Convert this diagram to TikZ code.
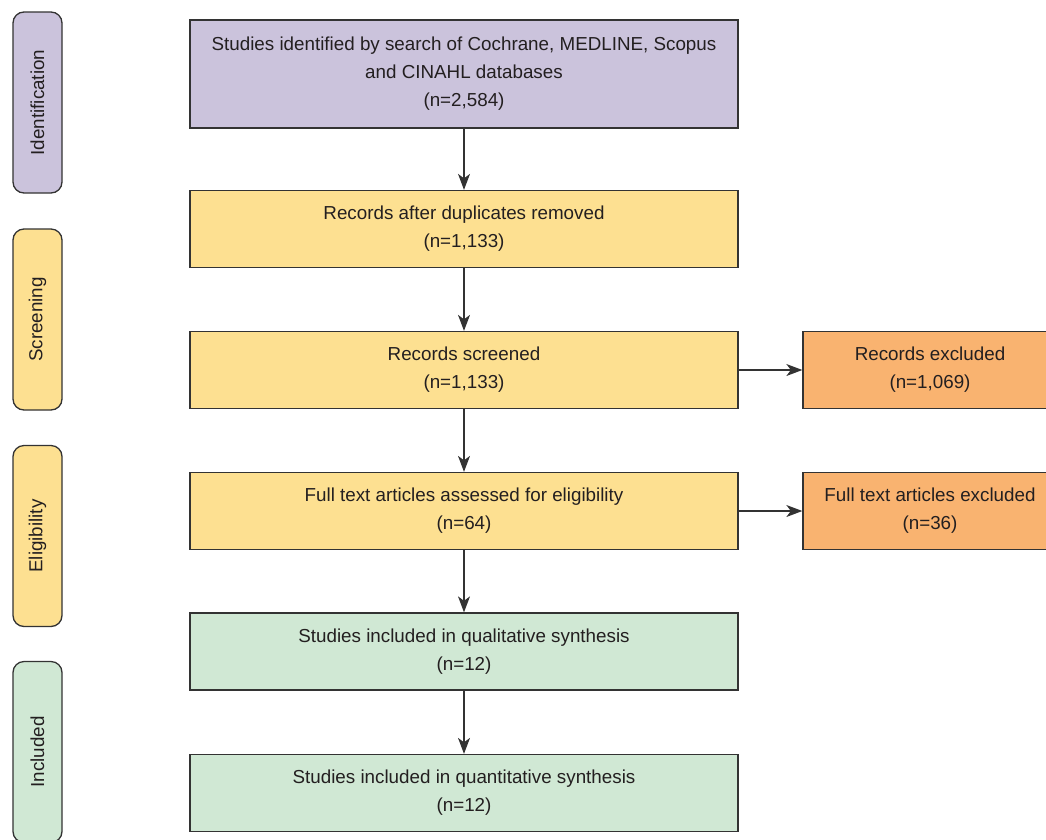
\documentclass[tikz,border=0pt]{standalone}
\usepackage{fontspec}
\setmainfont{Liberation Sans}
\usepackage{tikz}
\usetikzlibrary{arrows.meta}

\definecolor{identcol}{HTML}{CBC3DC}
\definecolor{screencol}{HTML}{FDE091}
\definecolor{exclcol}{HTML}{F9B370}
\definecolor{inclcol}{HTML}{D0E8D4}
\definecolor{linecol}{HTML}{333333}
\definecolor{textcol}{HTML}{231F20}

\tikzstyle{stagebox} = [draw=linecol,line width=1.3pt,rounded corners=11pt,rotate=90,
  minimum width=181pt,minimum height=49pt,inner sep=0pt,text=textcol]
\tikzstyle{mainbox} = [draw=linecol,line width=1.3pt,minimum width=548pt,minimum height=77pt,
  inner sep=0pt,align=center,text=textcol]
\tikzstyle{sidebox} = [draw=linecol,line width=1.3pt,minimum width=254pt,minimum height=77pt,
  inner sep=0pt,align=center,text=textcol]
\tikzstyle{arrow} = [line width=1.3pt,draw=linecol,-{Stealth[length=16pt,width=12pt,inset=4.5pt]}]

\begin{document}
\begin{tikzpicture}[x=1pt,y=-1pt,font=\fontsize{18.8}{28}\selectfont]

\path[use as bounding box] (0,0) rectangle (1046,839);
\clip (0,0) rectangle (1046,839);

% stages
\node (ident) [stagebox,fill=identcol] at (37.5,102.5) {Identification};
\node (screen) [stagebox,fill=screencol] at (37.5,319.5) {Screening};
\node (elig) [stagebox,fill=screencol] at (37.5,536) {Eligibility};
\node (incl) [stagebox,fill=inclcol] at (37.5,752) {Included};

% main column
\node (search) [mainbox,fill=identcol,minimum height=108pt] at (464,74)
  {Studies identified by search of Cochrane, MEDLINE, Scopus\\ and CINAHL databases\\ (n=2,584)};
\node (dupl) [mainbox,fill=screencol] at (464,229) {Records after duplicates removed\\ (n=1,133)};
\node (screened) [mainbox,fill=screencol] at (464,370) {Records screened\\ (n=1,133)};
\node (fulltext) [mainbox,fill=screencol] at (464,511) {Full text articles assessed for eligibility\\ (n=64)};
\node (qual) [mainbox,fill=inclcol] at (464,651.5) {Studies included in qualitative synthesis\\ (n=12)};
\node (quant) [mainbox,fill=inclcol] at (464,793) {Studies included in quantitative synthesis\\ (n=12)};

% exclusions
\node (recexcl) [sidebox,fill=exclcol] at (930,370) {Records excluded\\ (n=1,069)};
\node (ftexcl) [sidebox,fill=exclcol] at (930,511) {Full text articles excluded\\ (n=36)};

\draw [arrow] (search) -- (dupl);
\draw [arrow] (dupl) -- (screened);
\draw [arrow] (screened) -- (fulltext);
\draw [arrow] (fulltext) -- (qual);
\draw [arrow] (qual) -- (quant);
\draw [arrow] (screened) -- (recexcl);
\draw [arrow] (fulltext) -- (ftexcl);

\end{tikzpicture}
\end{document}
